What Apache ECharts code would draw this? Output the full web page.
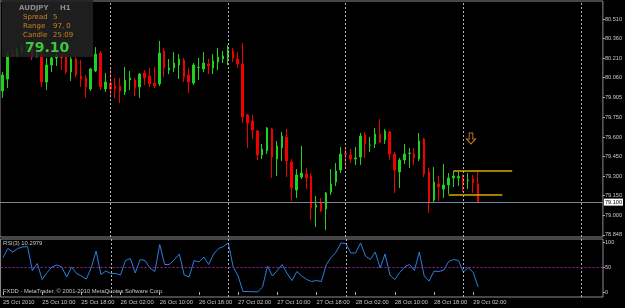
<!DOCTYPE html>
<html>
<head>
<meta charset="utf-8">
<script src="https://cdn.jsdelivr.net/npm/echarts@6/dist/echarts.min.js"></script>
<style>
  html, body { margin: 0; padding: 0; background: #000; }
  #chart { width: 625px; height: 308px; }
</style>
</head>
<body>
<div id="chart"></div>
<script>
// AUDJPY H1, 25 Oct 02:00 .. 29 Oct 03:00 (98 bars)
var opens = [79.956,80.048,80.233,80.225,80.264,80.287,80.310,80.217,80.240,80.025,
  80.156,80.210,80.225,80.217,80.102,80.202,80.071,80.056,79.971,80.110,
  80.248,79.971,80.017,79.994,79.994,79.948,80.040,80.040,79.986,80.094,
  80.071,80.017,80.010,80.264,80.117,80.133,80.156,80.194,80.079,80.017,
  80.137,80.125,80.164,80.133,80.179,80.202,80.210,80.264,80.202,80.164,
  79.771,79.725,79.648,79.463,79.494,79.663,79.432,79.517,79.602,79.409,
  79.193,79.293,79.316,79.301,79.062,79.093,79.047,79.178,79.255,79.347,
  79.478,79.463,79.432,79.447,79.617,79.536,79.548,79.625,79.579,79.640,
  79.470,79.332,79.424,79.474,79.470,79.432,79.586,79.332,79.116,79.240,
  79.201,79.232,79.286,79.286,79.286,79.263,79.278,79.240];
var closes = [80.079,80.233,80.225,80.264,80.287,80.310,80.217,80.248,80.025,80.156,
  80.210,80.225,80.210,80.102,80.202,80.079,80.048,79.986,80.125,80.240,
  79.986,80.025,79.971,79.971,79.956,80.040,80.056,79.979,80.086,80.056,
  80.010,79.994,80.248,80.133,80.133,80.171,80.202,80.063,80.025,80.156,
  80.140,80.171,80.148,80.187,80.217,80.225,80.271,80.210,80.164,79.755,
  79.709,79.655,79.463,79.509,79.671,79.447,79.532,79.609,79.417,79.209,
  79.309,79.324,79.286,79.055,79.078,79.032,79.170,79.240,79.340,79.470,
  79.467,79.432,79.440,79.609,79.548,79.540,79.625,79.563,79.648,79.470,
  79.347,79.424,79.470,79.478,79.440,79.571,79.316,79.101,79.255,79.216,
  79.232,79.286,79.301,79.297,79.247,79.270,79.247,79.100];
var lows = [79.902,79.979,80.217,80.217,80.248,80.271,80.194,80.214,79.986,79.963,
  80.102,80.148,80.117,80.086,80.033,80.063,79.986,79.902,79.956,80.102,
  79.963,79.948,79.902,79.902,79.863,79.925,79.963,79.917,79.902,80.002,
  79.986,79.979,79.994,80.063,80.086,80.102,80.048,80.025,79.940,80.002,
  80.040,80.102,80.086,80.086,80.117,80.171,80.156,80.179,80.133,79.709,
  79.517,79.586,79.424,79.432,79.470,79.286,79.301,79.417,79.293,79.109,
  79.132,79.278,79.201,78.962,78.909,79.024,78.886,79.155,79.224,79.324,
  79.363,79.401,79.386,79.386,79.440,79.486,79.517,79.555,79.548,79.424,
  79.170,79.209,79.394,79.363,79.386,79.417,79.293,79.016,79.101,79.109,
  79.132,79.163,79.216,79.224,79.178,79.201,79.170,79.093];
var highs = [80.102,80.256,80.271,80.287,80.310,80.333,80.325,80.271,80.256,80.210,
  80.233,80.248,80.240,80.233,80.217,80.217,80.194,80.079,80.133,80.294,
  80.264,80.094,80.133,80.056,80.056,80.140,80.110,80.056,80.094,80.117,
  80.133,80.140,80.341,80.287,80.202,80.256,80.240,80.210,80.133,80.171,
  80.210,80.256,80.202,80.240,80.287,80.264,80.310,80.287,80.256,80.325,
  79.779,79.771,79.655,79.548,79.678,79.671,79.571,79.640,79.663,79.432,
  79.355,79.532,79.363,79.324,79.147,79.132,79.178,79.355,79.401,79.524,
  79.509,79.509,79.524,79.632,79.640,79.602,79.671,79.740,79.663,79.648,
  79.486,79.440,79.548,79.517,79.517,79.632,79.594,79.363,79.370,79.301,
  79.394,79.324,79.340,79.332,79.316,79.324,79.309,79.340];
var rsi = [69,87,80,87,90,91,43,57,25,39,
  50,54,50,30,50,37,32,26,48,82,
  35,42,37,37,34,63,67,38,65,63,
  48,41,95,55,55,65,76,34,30,63,
  60,70,55,76,87,91,98,50,32,1,
  1,0.5,0.3,10,52,32,43,55,37,23,
  41,32,25,21,23,21,55,69,80,98,
  97,78,78,98,72,65,80,48,76,34,
  25,39,50,55,43,80,32,22,42,41,
  44,61,65,63,40,49,39,10.2979];

var priceTicks = [80.510, 80.360, 80.210, 80.060, 79.905, 79.750, 79.600, 79.450, 79.300, 79.150, 79.000, 78.848];
var rsiTicks = [0, 50, 100];
var tickCats = ['25 Oct 02:00','25 Oct 10:00','25 Oct 18:00','26 Oct 02:00','26 Oct 10:00','26 Oct 18:00',
  '27 Oct 02:00','27 Oct 10:00','27 Oct 18:00','28 Oct 02:00','28 Oct 10:00','28 Oct 18:00','29 Oct 02:00'];
var tickLabels = ['25 Oct 2010','25 Oct 10:00','25 Oct 18:00','26 Oct 02:00','26 Oct 10:00','26 Oct 18:00',
  '27 Oct 02:00','27 Oct 10:00','27 Oct 18:00','28 Oct 02:00','28 Oct 10:00','28 Oct 18:00','29 Oct 02:00'];
var dayLines = ['26 Oct 00:00','27 Oct 00:00','28 Oct 00:00','29 Oct 00:00','30 Oct 00:00'];
var bid = 79.10;
// horizontal levels drawn on the chart: [from bar, to bar, price]
var levels = [['28 Oct 22:00', '29 Oct 10:00', 79.342], ['28 Oct 21:00', '29 Oct 08:00', 79.160]];
var arrowAt = ['29 Oct 02:00', 79.59];

// hourly slots, incl. empty space right of the last bar
var days = ['25 Oct','26 Oct','27 Oct','28 Oct','29 Oct','30 Oct'];
var hours = [];
for (var k = 0; k < 123; k++) {
  var h = k + 2;
  var hh = h % 24;
  hours.push(days[Math.floor(h / 24)] + ' ' + (hh < 10 ? '0' + hh : hh) + ':00');
}
var candles = [];
for (var i = 0; i < opens.length; i++) {
  candles.push([opens[i], closes[i], lows[i], highs[i]]);
}
var tickMap = {};
tickCats.forEach(function (c, j) { tickMap[c] = tickLabels[j]; });
function isTick(idx, val) { return tickMap[val] !== undefined; }

var axisFont = 'Liberation Sans';
var gridLine = { color: '#b4b4b4', type: [2, 2], width: 1 };

var dayMarks = dayLines.map(function (d) { return { xAxis: d }; });

var levelMarks = levels.map(function (l) {
  return [{ coord: [l[0], l[2]], lineStyle: { color: '#d6a800', width: 1.5, type: 'solid' } },
          { coord: [l[1], l[2]] }];
});

var chart = echarts.init(document.getElementById('chart'));
var option = {
  backgroundColor: '#000000',
  animation: false,
  grid: [
    { left: 0, top: 1, width: 603, height: 236, show: true, borderColor: '#8c8c8c', borderWidth: 1 },
    { left: 0, top: 239, width: 603, height: 58, show: true, borderColor: '#8c8c8c', borderWidth: 1 }
  ],
  xAxis: [
    { type: 'category', gridIndex: 0, data: hours, boundaryGap: true,
      axisLine: { show: false }, axisTick: { show: false }, axisLabel: { show: false }, splitLine: { show: false } },
    { type: 'category', gridIndex: 1, data: hours, boundaryGap: true,
      axisLine: { show: false },
      axisTick: { show: true, interval: isTick, alignWithLabel: true, length: 3, lineStyle: { color: '#b0b0b0' } },
      axisLabel: { show: true, interval: isTick, align: 'left', margin: 2, color: '#c8c8c8',
        fontFamily: axisFont, fontSize: 5.8,
        formatter: function (v) { return tickMap[v]; } },
      splitLine: { show: false } }
  ],
  yAxis: [
    { type: 'value', gridIndex: 0, position: 'right', min: 78.8314, max: 80.6486,
      axisLine: { show: false }, splitLine: { show: false },
      axisTick: { show: true, customValues: priceTicks, length: 2, lineStyle: { color: '#b0b0b0' } },
      axisLabel: { show: true, customValues: priceTicks, margin: 2, color: '#c8c8c8',
        fontFamily: axisFont, fontSize: 5.6,
        formatter: function (v) { return v.toFixed(3); } } },
    { type: 'value', gridIndex: 1, position: 'right', min: -10, max: 106,
      axisLine: { show: false }, splitLine: { show: false },
      axisTick: { show: true, customValues: rsiTicks, length: 2, lineStyle: { color: '#b0b0b0' } },
      axisLabel: { show: true, customValues: rsiTicks, margin: 2, color: '#c8c8c8',
        fontFamily: axisFont, fontSize: 5.6 } }
  ],
  series: [
    {
      type: 'candlestick',
      xAxisIndex: 0, yAxisIndex: 0,
      data: candles,
      barWidth: 2,
      itemStyle: { color: '#1fd21f', color0: '#f00000', borderColor: '#1fd21f', borderColor0: '#f00000', borderWidth: 1 },
      markLine: {
        symbol: 'none', silent: true, animation: false,
        label: { show: false },
        lineStyle: gridLine,
        data: dayMarks.concat([
          { yAxis: bid, lineStyle: { color: '#778899', type: 'solid', width: 1 },
            label: { show: true, position: 'end', distance: 1, formatter: bid.toFixed(3),
              color: '#000', backgroundColor: '#ffffff', padding: [1, 1, 0, 1],
              fontFamily: axisFont, fontSize: 5.6 } }
        ]).concat(levelMarks)
      },
      markPoint: {
        silent: true, animation: false,
        symbol: 'path://M3,0L7,0L7,6L10,6L5,11L0,6L3,6Z',
        symbolSize: [9, 11],
        symbolOffset: [-2, 0],
        itemStyle: { color: 'rgba(0,0,0,0)', borderColor: '#c8781e', borderWidth: 1 },
        label: { show: false },
        data: [{ coord: arrowAt }]
      }
    },
    {
      type: 'line',
      xAxisIndex: 1, yAxisIndex: 1,
      data: rsi,
      showSymbol: false,
      lineStyle: { color: '#2a7fe0', width: 1 },
      markLine: {
        symbol: 'none', silent: true, animation: false,
        label: { show: false },
        lineStyle: gridLine,
        data: dayMarks.concat([{ yAxis: 50, lineStyle: { color: '#a020a0', type: [2, 2], width: 1 } }])
      }
    }
  ],
  graphic: [
    { type: 'rect', shape: { x: 2, y: 0, width: 91, height: 57 }, style: { fill: 'rgba(34,34,34,0.88)' }, z: 100 },
    { type: 'text', x: 19, y: 8, z: 101, style: { text: 'AUDJPY', font: 'bold 7px "DejaVu Sans"', fill: '#8c8c8c', textVerticalAlign: 'middle', verticalAlign: 'middle' } },
    { type: 'text', x: 60, y: 8, z: 101, style: { text: 'H1', font: 'bold 7px "DejaVu Sans"', fill: '#8c8c8c', textVerticalAlign: 'middle', verticalAlign: 'middle' } },
    { type: 'text', x: 23, y: 17.5, z: 101, style: { text: 'Spread', font: '7px "DejaVu Sans"', fill: '#c8801e', textVerticalAlign: 'middle', verticalAlign: 'middle' } },
    { type: 'text', x: 53, y: 17.5, z: 101, style: { text: '5', font: '7px "DejaVu Sans"', fill: '#c8801e', textVerticalAlign: 'middle', verticalAlign: 'middle' } },
    { type: 'text', x: 23, y: 26, z: 101, style: { text: 'Range', font: '7px "DejaVu Sans"', fill: '#c8801e', textVerticalAlign: 'middle', verticalAlign: 'middle' } },
    { type: 'text', x: 53, y: 26, z: 101, style: { text: '97, 0', font: '7px "DejaVu Sans"', fill: '#c8801e', textVerticalAlign: 'middle', verticalAlign: 'middle' } },
    { type: 'text', x: 23, y: 35, z: 101, style: { text: 'Candle', font: '7px "DejaVu Sans"', fill: '#c8801e', textVerticalAlign: 'middle', verticalAlign: 'middle' } },
    { type: 'text', x: 53, y: 35, z: 101, style: { text: '25:09', font: '7px "DejaVu Sans"', fill: '#c8801e', textVerticalAlign: 'middle', verticalAlign: 'middle' } },
    { type: 'text', x: 25, y: 48, z: 101, style: { text: '79.10', font: 'bold 14px "DejaVu Sans"', fill: '#3ec83e', textVerticalAlign: 'middle', verticalAlign: 'middle' } },
    { type: 'text', x: 3, y: 243, z: 101, style: { text: 'RSI(3) 10.2979', font: '5.8px "Liberation Sans"', fill: '#c8c8c8', textVerticalAlign: 'middle', verticalAlign: 'middle' } },
    { type: 'text', x: 3, y: 291, z: 101, style: { text: 'FXDD - MetaTrader, \u00a9 2001-2010 MetaQuotes Software Corp.', font: '5.8px "Liberation Sans"', fill: '#c8c8c8', textVerticalAlign: 'middle', verticalAlign: 'middle' } }
  ]
};
chart.setOption(option);
</script>
</body>
</html>
